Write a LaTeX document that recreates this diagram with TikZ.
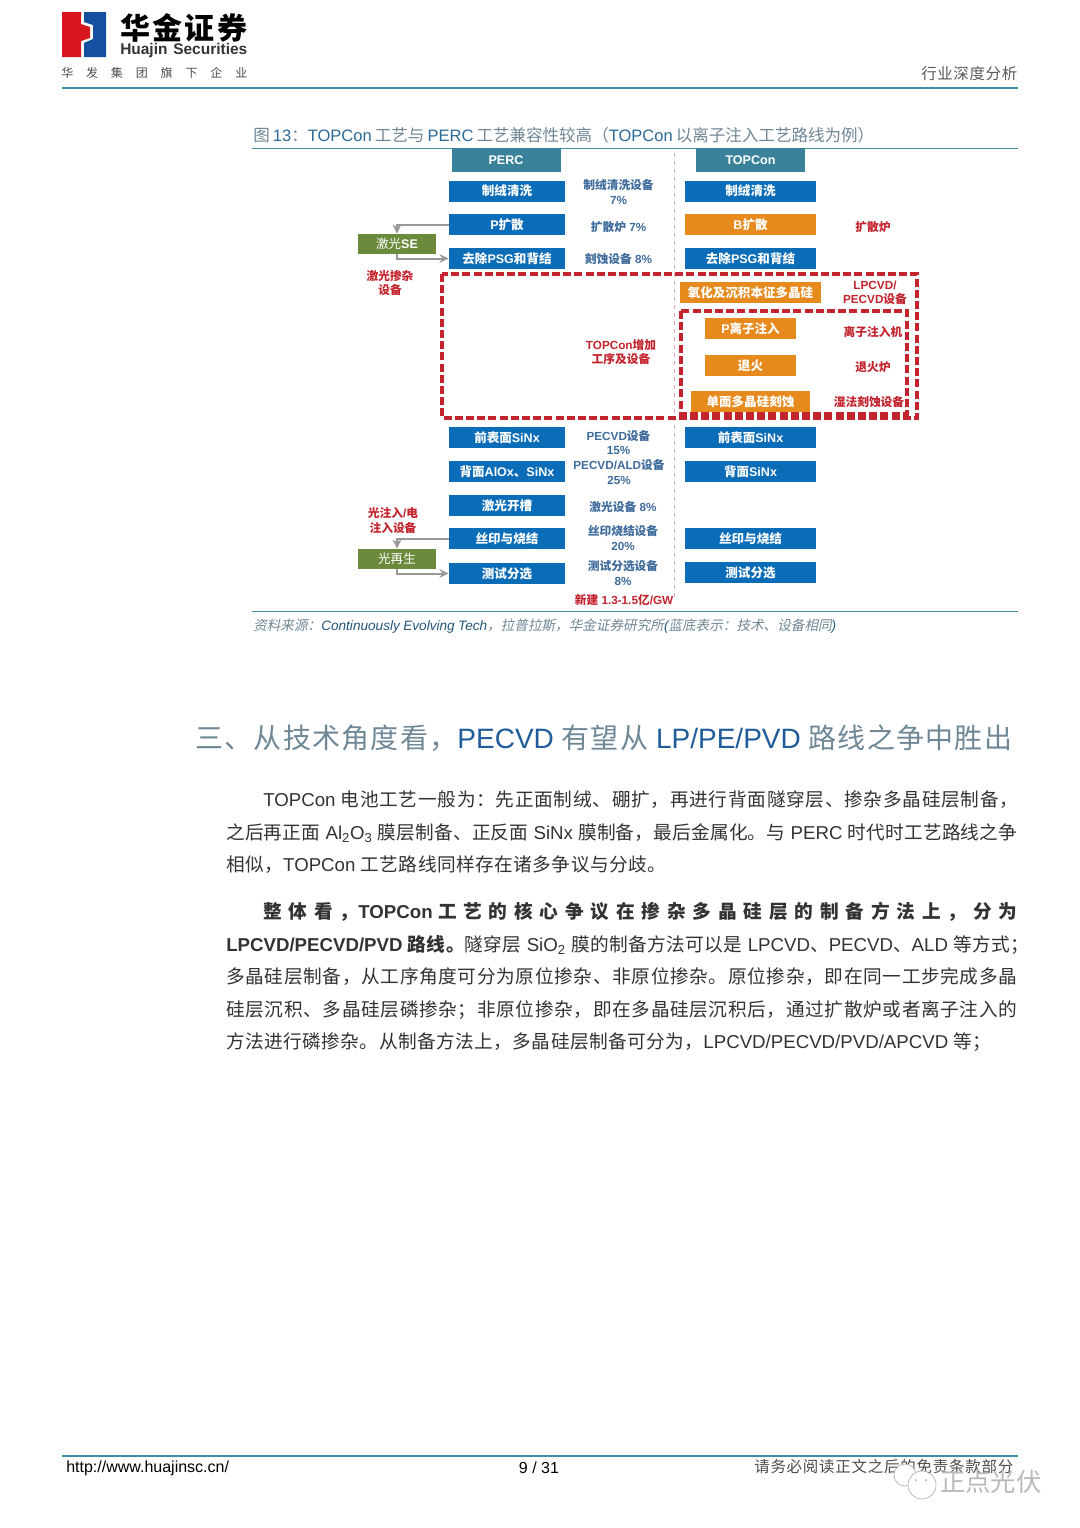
\documentclass[tikz,border=0pt]{standalone}
\usepackage{fontspec}
\setmainfont{Liberation Sans}
\newfontfamily\cjk{Noto Sans CJK SC}
\newfontfamily\cjkit[FakeSlant=0.2]{Noto Sans CJK SC}
\usetikzlibrary{arrows.meta,positioning}
% stretchable gap between CJK characters
\newXeTeXintercharclass\hanclass
\newcount\hanchar
\hanchar="3000
\loop\ifnum\hanchar<"A000 \XeTeXcharclass\hanchar=\hanclass \advance\hanchar by 1 \repeat
\hanchar="FF00
\loop\ifnum\hanchar<"FFF0 \XeTeXcharclass\hanchar=\hanclass \advance\hanchar by 1 \repeat
\XeTeXinterchartoks\hanclass\hanclass={\hskip 0pt plus 100pt\relax}
\XeTeXinterchartokenstate=1
\definecolor{boxblue}{HTML}{0B6CB8}
\definecolor{boxorange}{HTML}{E68A1E}
\definecolor{headteal}{HTML}{3A8299}
\definecolor{boxgreen}{HTML}{6B8A3C}
\definecolor{markred}{HTML}{C4242E}
\definecolor{equipblue}{HTML}{3F6C9C}
\definecolor{ruleteal}{HTML}{3E8CA6}
\definecolor{capblue}{HTML}{2A6A96}
\definecolor{capgray}{HTML}{6F8796}
\definecolor{headblue}{HTML}{1F5C99}
\definecolor{bodygray}{HTML}{333333}
\definecolor{logored}{HTML}{D7161E}
\definecolor{logoblue}{HTML}{14509F}
\newlength\pix
\setlength\pix{0.75pt}
\newcommand{\zh}[1]{{\cjk #1}}
\newcommand{\zhit}[1]{{\color{capgray}\cjkit #1}}
\newcommand{\zhc}[1]{{\color{capgray}\cjk #1}}
\newcommand{\bodyline}[5]{\node[bodytext] (#1) at (#2,#3) {\hbox to #4\pix{#5}};}
\tikzset{
  procbox/.style={inner sep=0pt,text=white,minimum height=21\pix,font=\fontsize{9.4}{11}\selectfont\bfseries},
  bluebox/.style={procbox,fill=boxblue},
  orangebox/.style={procbox,fill=boxorange},
  leftcol/.style={minimum width=116\pix},
  rightcol/.style={minimum width=131\pix},
  headbox/.style={procbox,fill=headteal,minimum width=109\pix,minimum height=24\pix},
  greenbox/.style={procbox,fill=boxgreen,minimum width=78\pix,minimum height=20\pix,font=\fontsize{9.4}{11}\selectfont},
  equip/.style={inner sep=0pt,text=equipblue,align=center,font=\fontsize{8.8}{10.6}\selectfont\bfseries},
  redlabel/.style={inner sep=0pt,text=markred,align=center,font=\fontsize{8.8}{10.6}\selectfont\bfseries},
  greyarrow/.style={draw=gray!80,line width=1.5pt,-{Stealth[length=7pt,width=6.5pt]}},
  reddash/.style={draw=markred,line width=2.4pt,dash pattern=on 6pt off 2.4pt},
  bodytext/.style={inner sep=0pt,anchor=west,text=bodygray,font=\fontsize{14}{16}\selectfont},
}
\begin{document}
\begin{tikzpicture}[x=0.75pt,y=-0.75pt]
\useasboundingbox (0,0) rectangle (1080,1528);
\fill[white] (0,0) rectangle (1080,1528);
% page head
\fill[logored] (62,12)--(81,12)--(81,24)--(90,27)--(90,38)--(81,41)--(81,57)--(62,57)--cycle;
\fill[logoblue] (84,12)--(106,12)--(106,57)--(84,57)--(84,43)--(93,39)--(93,25)--(84,22)--cycle;
\node[inner sep=0pt,anchor=west,font=\fontsize{22.5}{25}\selectfont\bfseries] (brand) at (120,28) {\hbox to 127\pix{\zh{华金证券}}};
\node[inner sep=0pt,anchor=west,font=\fontsize{11.6}{13}\selectfont\bfseries,text=black!80] (brandlat) at (120,50) {\hbox to 127\pix{Huajin\hfill Securities}};
\node[inner sep=0pt,anchor=west,font=\fontsize{9}{11}\selectfont,text=black!70] (group) at (61,73) {\hbox to 186\pix{\zh{华发集团旗下企业}}};
\node[inner sep=0pt,anchor=west,font=\fontsize{11.6}{13}\selectfont,text=black!65] (kind) at (921,74) {\hbox to 96\pix{\zh{行业深度分析}}};
\draw[ruleteal,line width=1.6pt] (62,88)--(1018,88);
% figure caption
\node[inner sep=0pt,anchor=west,text=capblue,font=\fontsize{12.4}{14}\selectfont] (figcap) at (253,135) {\hbox to 609\pix{\zhc{图} 13\zhc{：}TOPCon \zhc{工艺与} PERC \zhc{工艺兼容性较高（}TOPCon \zhc{以离子注入工艺路线为例）}}};
\draw[ruleteal,line width=0.7pt] (252,148)--(1018,148);
\draw[ruleteal,line width=0.7pt] (252,611)--(1018,611);
\draw[red!30!gray!50,dashed,line width=0.5pt] (674,153)--(674,600);
% perc column
\node[headbox] (perc) at (506,160) {PERC};
\node[bluebox,leftcol] (ltex) at (507,191) {\zh{制绒清洗}};
\node[bluebox,leftcol] (pdiff) at (507,224.5) {P\zh{扩散}};
\node[bluebox,leftcol] (lpsg) at (507,258.5) {\zh{去除}PSG\zh{和背结}};
\node[bluebox,leftcol] (lsin) at (507,437.5) {\zh{前表面}SiNx};
\node[bluebox,leftcol] (lalox) at (507,471.5) {\zh{背面}AlOx\zh{、}SiNx};
\node[bluebox,leftcol] (groove) at (507,505.5) {\zh{激光开槽}};
\node[bluebox,leftcol] (lprint) at (507,538.5) {\zh{丝印与烧结}};
\node[bluebox,leftcol] (ltest) at (507,573.5) {\zh{测试分选}};
% topcon column
\node[headbox] (topcon) at (750.5,160) {TOPCon};
\node[bluebox,rightcol] (rtex) at (750.5,191) {\zh{制绒清洗}};
\node[orangebox,rightcol] (bdiff) at (750.5,224.5) {B\zh{扩散}};
\node[bluebox,rightcol] (rpsg) at (750.5,258.5) {\zh{去除}PSG\zh{和背结}};
\node[orangebox,minimum width=141\pix] (oxide) at (750.5,292.5) {\zh{氧化及沉积本征多晶硅}};
\node[orangebox,minimum width=91\pix] (implant) at (750.5,328.5) {P\zh{离子注入}};
\node[orangebox,minimum width=91\pix] (anneal) at (750.5,365.5) {\zh{退火}};
\node[orangebox,minimum width=119\pix] (etch) at (750.5,401.5) {\zh{单面多晶硅刻蚀}};
\node[bluebox,rightcol] (rsin) at (750.5,437.5) {\zh{前表面}SiNx};
\node[bluebox,rightcol] (rback) at (750.5,471.5) {\zh{背面}SiNx};
\node[bluebox,rightcol] (rprint) at (750.5,538.5) {\zh{丝印与烧结}};
\node[bluebox,rightcol] (rtest) at (750.5,572.5) {\zh{测试分选}};
% added steps
\draw[reddash] (442,274) rectangle (917,418);
\draw[reddash] (681,311) rectangle (907,414);
% side steps
\node[greenbox] (laser) at (397,244) {\zh{激光}\textbf{SE}};
\node[greenbox] (regen) at (397,559) {\zh{光再生}};
\draw[greyarrow] (pdiff.west) -| (laser.north);
\draw[greyarrow] (laser.south) |- (lpsg.west);
\draw[greyarrow] (lprint.west) -| (regen.north);
\draw[greyarrow] (regen.south) |- (ltest.west);
% equipment
\node[equip] (e1) at (618.5,192) {\zh{制绒清洗设备}\\7\%};
\node[equip] (e2) at (618.5,227) {\zh{扩散炉} 7\%};
\node[equip] (e3) at (618.5,259) {\zh{刻蚀设备} 8\%};
\node[equip] (e4) at (618.5,442.5) {PECVD\zh{设备}\\15\%};
\node[equip] (e5) at (619,472) {PECVD/ALD\zh{设备}\\25\%};
\node[equip] (e6) at (623,507) {\zh{激光设备} 8\%};
\node[equip] (e7) at (623,538) {\zh{丝印烧结设备}\\20\%};
\node[equip] (e8) at (623,573) {\zh{测试分选设备}\\8\%};
\node[redlabel] (r1) at (873,227) {\zh{扩散炉}};
\node[redlabel] (r2) at (875,293) {LPCVD/\\PECVD\zh{设备}};
\node[redlabel] (r3) at (873,332) {\zh{离子注入机}};
\node[redlabel] (r4) at (873,367) {\zh{退火炉}};
\node[redlabel] (r5) at (869,402) {\zh{湿法刻蚀设备}};
\node[redlabel] (r6) at (390,283) {\zh{激光掺杂}\\\zh{设备}};
\node[redlabel] (r7) at (621,352) {TOPCon\zh{增加}\\\zh{工序及设备}};
\node[redlabel] (r8) at (393,520.5) {\zh{光注入}/\zh{电}\\\zh{注入设备}};
\node[redlabel] (r9) at (624,600) {\zh{新建} 1.3-1.5\zh{亿}/GW};
% source
\node[inner sep=0pt,anchor=west,text=capblue!80!black,font=\fontsize{10.2}{12}\selectfont\itshape] (source) at (253,626) {\hbox to 583\pix{\zhit{资料来源：}Continuously Evolving Tech\zhit{，拉普拉斯，华金证券研究所}(\zhit{蓝底表示：技术、设备相同})}};
% section title
\node[inner sep=0pt,anchor=west,text=headblue,font=\fontsize{21}{24}\selectfont] (section) at (195,738) {\hbox to 817\pix{\zhc{三、从技术角度看，}PECVD \zhc{有望从} LP/PE/PVD \zhc{路线之争中胜出}}};
% body
\bodyline{l1}{263}{800}{755}{TOPCon \zh{电池工艺一般为：先正面制绒、硼扩，再进行背面隧穿层、掺杂多晶硅层制备，}}
\bodyline{l2}{226}{833}{791}{\zh{之后再正面} Al\textsubscript{2}O\textsubscript{3} \zh{膜层制备、正反面} SiNx \zh{膜制备，最后金属化。与} PERC \zh{时代时工艺路线之争}}
\bodyline{l3}{226}{865}{440}{\zh{相似，}TOPCon \zh{工艺路线同样存在诸多争议与分歧。}}
\bodyline{l4}{263}{912}{754}{\bfseries\zh{整体看，}TOPCon \zh{工艺的核心争议在掺杂多晶硅层的制备方法上，分为}}
\bodyline{l5}{226}{945}{803}{\textbf{LPCVD/PECVD/PVD \zh{路线。}}\zh{隧穿层} SiO\textsubscript{2} \zh{膜的制备方法可以是} LPCVD\zh{、}PECVD\zh{、}ALD \zh{等方式；}}
\bodyline{l6}{226}{977}{791}{\zh{多晶硅层制备，从工序角度可分为原位掺杂、非原位掺杂。原位掺杂，即在同一工步完成多晶}}
\bodyline{l7}{226}{1010}{791}{\zh{硅层沉积、多晶硅层磷掺杂；非原位掺杂，即在多晶硅层沉积后，通过扩散炉或者离子注入的}}
\bodyline{l8}{226}{1042}{765}{\zh{方法进行磷掺杂。从制备方法上，多晶硅层制备可分为，}LPCVD/PECVD/PVD/APCVD \zh{等；}}
% page foot
\draw[ruleteal,line width=1.2pt] (62,1456)--(1018,1456);
\node[inner sep=0pt,anchor=west,font=\fontsize{12}{14}\selectfont] (url) at (66,1468.5) {http://www.huajinsc.cn/};
\node[inner sep=0pt,font=\fontsize{12}{14}\selectfont] (pageno) at (539,1468) {9 / 31};
\node[inner sep=0pt,anchor=west,text=black!70,font=\fontsize{11.6}{13}\selectfont] (notice) at (754,1467) {\hbox to 259\pix{\zh{请务必阅读正文之后的免责条款部分}}};
% watermark
\draw[gray!60,fill=white,line width=0.5pt] (905,1475) circle (11);
\draw[gray!60,fill=white,line width=0.5pt] (922,1485) circle (14);
\fill[gray!70] (916,1480) circle (1) (926,1480) circle (1);
\node[inner sep=0pt,anchor=west,text=gray!55,font=\fontsize{19}{21}\selectfont] (mark) at (940,1482) {\zh{正点光伏}};
\end{tikzpicture}
\end{document}
